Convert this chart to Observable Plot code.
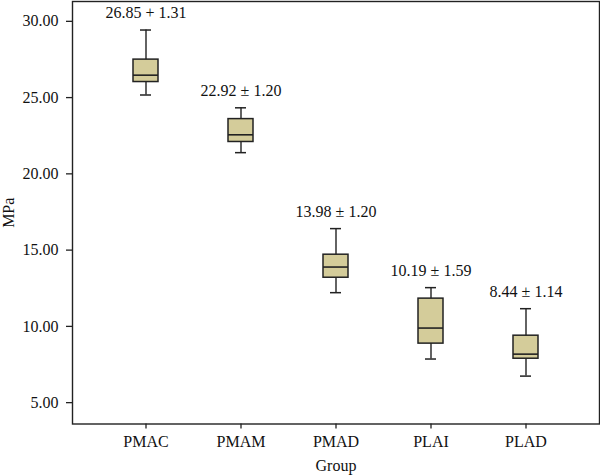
<!DOCTYPE html>
<html>
<head>
<meta charset="utf-8">
<script src="https://cdn.jsdelivr.net/npm/d3@7"></script>
<script src="https://cdn.jsdelivr.net/npm/@observablehq/plot@0.6"></script>
<style>
  html, body { margin: 0; padding: 0; background: #fff; }
  #chart svg { display: block; }
</style>
</head>
<body>
<div id="chart"></div>
<script>
// Tensile strength (MPa) per material group: box-plot summaries and mean ± SD
const groups = ["PMAC", "PMAM", "PMAD", "PLAI", "PLAD"];
const whiskerLow = [25.17, 21.39, 12.21, 7.86, 6.74];
const q1 = [26.02, 22.09, 13.19, 8.87, 7.88];
const median = [26.47, 22.56, 13.89, 9.89, 8.18];
const q3 = [27.49, 23.59, 14.70, 11.82, 9.39];
const whiskerHigh = [29.43, 24.33, 16.41, 12.54, 11.16];
const means = [26.85, 22.92, 13.98, 10.19, 8.44];
const sds = [1.31, 1.20, 1.20, 1.59, 1.14];
const separators = ["+", "±", "±", "±", "±"];
const yTicks = [5, 10, 15, 20, 25, 30];

const rows = groups.map((g, i) => ({
  group: g,
  low: whiskerLow[i],
  q1: q1[i],
  median: median[i],
  q3: q3[i],
  high: whiskerHigh[i],
  label: `${means[i].toFixed(2)} ${separators[i]} ${sds[i].toFixed(2)}`
}));

const ink = "#222";
const boxFill = "#d4cc9a";

const chart = Plot.plot({
  width: 600,
  height: 475,
  marginLeft: 72,
  marginRight: 1,
  marginTop: 1,
  marginBottom: 51.5,
  style: {
    fontFamily: "'Liberation Serif', 'DejaVu Serif', serif",
    fontSize: "16px",
    color: "#111",
    background: "#fff"
  },
  x: {
    type: "band",
    domain: groups,
    paddingInner: 0.737,
    paddingOuter: 0.641
  },
  y: {
    domain: [3.6, 31.3]
  },
  marks: [
    Plot.axisY({
      ticks: yTicks,
      tickFormat: d3.format(".2f"),
      tickSize: 6,
      tickPadding: 8,
      stroke: ink,
      strokeWidth: 1.3,
      fontSize: 16,
      label: "MPa",
      labelAnchor: "center",
      labelArrow: "none",
      labelOffset: 70
    }),
    Plot.axisX({
      tickSize: 5,
      tickPadding: 7,
      stroke: ink,
      strokeWidth: 1.3,
      fontSize: 16,
      label: "Group",
      labelAnchor: "center",
      labelArrow: "none",
      labelOffset: 47
    }),
    // whisker stems
    Plot.ruleX(rows, {x: "group", y1: "low", y2: "high", stroke: ink, strokeWidth: 1.4}),
    // interquartile boxes
    Plot.barY(rows, {x: "group", y1: "q1", y2: "q3", fill: boxFill, stroke: ink, strokeWidth: 1.5}),
    // medians
    Plot.tickY(rows, {x: "group", y: "median", stroke: ink, strokeWidth: 1.6}),
    // whisker caps
    Plot.tickY(rows, {x: "group", y: "low", stroke: ink, strokeWidth: 1.5, insetLeft: 7, insetRight: 7}),
    Plot.tickY(rows, {x: "group", y: "high", stroke: ink, strokeWidth: 1.5, insetLeft: 7, insetRight: 7}),
    // mean ± SD annotations
    Plot.text(rows, {x: "group", y: "high", text: "label", dy: -17, lineAnchor: "middle", fontSize: 16, fill: "#111"}),
    Plot.frame({stroke: ink, strokeWidth: 1.4})
  ]
});

document.getElementById("chart").appendChild(chart);
</script>
</body>
</html>
